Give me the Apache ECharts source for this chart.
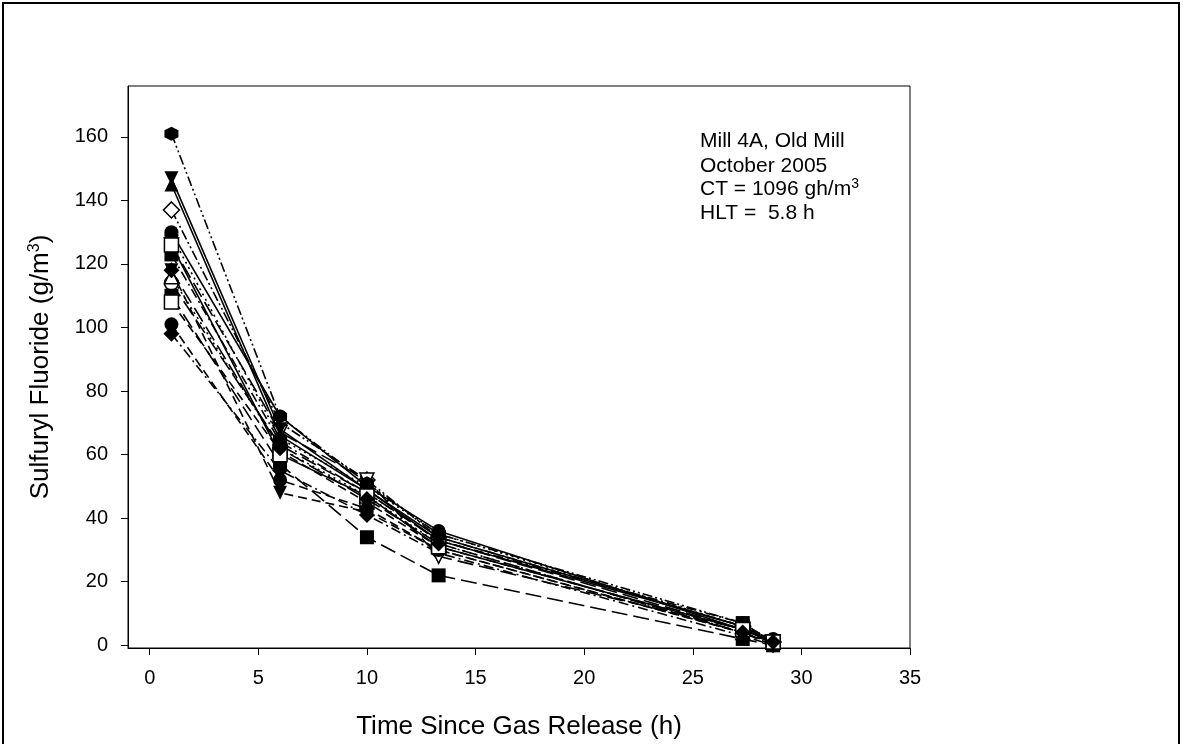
<!DOCTYPE html>
<html>
<head>
<meta charset="utf-8">
<script src="https://cdn.jsdelivr.net/npm/echarts@6/dist/echarts.min.js"></script>
<style>
html,body{margin:0;padding:0;background:#fff;}
#chart{width:1183px;height:744px;}
</style>
</head>
<body>
<div id="chart"></div>
<script>
// ---- data ----
const times = [1, 6, 10, 13.3, 27.3, 28.7];
const xTicks = [0, 5, 10, 15, 20, 25, 30, 35];
const yTicks = [0, 20, 40, 60, 80, 100, 120, 140, 160];

const loc01 = [130, 72, 50, 36, 5, 1];
const loc02 = [114, 63, 48, 33, 5, 1];
const loc03 = [118, 48, 42, 30, 4, 0.5];
const loc04 = [116, 62, 47, 32, 4, 1];
const loc05 = [110, 57, 34, 22, 2, 0];
const loc06 = [108, 61, 45, 31, 5, 1];
const loc07 = [98, 55, 41, 29, 3, 0];
const loc08 = [137, 70, 52, 34, 6, 1];
const loc09 = [145, 66, 49, 33, 6, 1];
const loc10 = [126, 67, 52, 28, 5, 1];
const loc11 = [161, 72, 51, 35, 7, 1];
const loc12 = [101, 52, 43, 30, 4, 0];
const loc13 = [147, 68, 49, 34, 6, 1];
const loc14 = [123, 64, 48, 33, 7, 1];
const loc15 = [129, 65, 50, 35, 6, 2];
const loc16 = [126, 60, 47, 31, 5, 1];
const loc17 = [118, 62, 46, 32, 4, 1];

// ---- styles ----
const HEX = 'path://M0,-1L0.866,-0.5L0.866,0.5L0,1L-0.866,0.5L-0.866,-0.5Z';
const DASH = {
  solid: 'solid',
  longdash: [16, 6],
  dash: [9, 5],
  dot: [2, 4],
  dashdot: [10, 4, 2, 4],
  dashdotdot: [10, 3, 2, 3, 2, 3]
};
const specs = [
  {d: loc01, sym: 'circle', open: false, line: 'solid'},
  {d: loc02, sym: 'circle', open: true, line: 'longdash'},
  {d: loc03, sym: 'triangle', rot: 180, open: false, line: 'dash'},
  {d: loc04, sym: 'triangle', open: true, line: 'dot'},
  {d: loc05, sym: 'rect', open: false, line: 'longdash'},
  {d: loc06, sym: 'rect', open: true, line: 'dash'},
  {d: loc07, sym: 'diamond', open: false, line: 'dashdot'},
  {d: loc08, sym: 'diamond', open: true, line: 'dashdotdot'},
  {d: loc09, sym: 'triangle', open: false, line: 'solid'},
  {d: loc10, sym: 'triangle', rot: 180, open: true, line: 'longdash'},
  {d: loc11, sym: HEX, open: false, line: 'dashdotdot'},
  {d: loc12, sym: 'circle', open: false, line: 'dash'},
  {d: loc13, sym: 'triangle', rot: 180, open: false, line: 'solid'},
  {d: loc14, sym: 'rect', open: false, line: 'dashdot'},
  {d: loc15, sym: 'circle', open: false, line: 'dot'},
  {d: loc16, sym: 'rect', open: true, line: 'solid'},
  {d: loc17, sym: 'diamond', open: false, line: 'longdash'}
];

const series = specs.map((s, i) => ({
  type: 'line',
  data: times.map((t, k) => [t, s.d[k]]),
  symbol: s.sym,
  symbolRotate: s.rot || 0,
  symbolSize: s.sym === 'diamond' ? 16 : 14,
  showSymbol: true,
  animation: false,
  z: 2 + i,
  lineStyle: {color: '#000', width: 1.6, type: DASH[s.line]},
  itemStyle: {
    color: s.open ? '#fff' : '#000',
    borderColor: '#000',
    borderWidth: s.open ? 1.5 : 0
  },
  emphasis: {disabled: true}
}));

const chart = echarts.init(document.getElementById('chart'), null, {renderer: 'canvas'});
const FONT = 'Liberation Sans, Arial, Helvetica, sans-serif';
chart.setOption({
  backgroundColor: '#fff',
  animation: false,
  grid: {left: 128, top: 86, width: 782, height: 562, show: true, borderColor: '#000', borderWidth: 1,
    backgroundColor: 'transparent', containLabel: false, outerBoundsMode: 'none'},
  xAxis: {
    type: 'value', min: -1, max: 35,
    name: 'Time Since Gas Release (h)',
    nameLocation: 'middle', nameGap: 66,
    nameTextStyle: {fontFamily: FONT, fontSize: 26, color: '#000'},
    axisLine: {show: true, onZero: false, lineStyle: {color: '#000', width: 1}},
    axisTick: {show: true, length: 7, customValues: xTicks, lineStyle: {color: '#000', width: 1}},
    axisLabel: {customValues: xTicks, margin: 20, fontFamily: FONT, fontSize: 20, color: '#000'},
    splitLine: {show: false}
  },
  yAxis: {
    type: 'value', min: -0.85, max: 176,
    name: 'Sulfuryl Fluoride (g/m{sup|3})',
    nameLocation: 'middle', nameGap: 73, nameRotate: 90,
    nameTextStyle: {fontFamily: FONT, fontSize: 26, color: '#000',
      rich: {sup: {fontFamily: FONT, fontSize: 16, color: '#000', verticalAlign: 'top', padding: [0, 0, 12, 0]}}},
    axisLine: {show: true, onZero: false, lineStyle: {color: '#000', width: 1}},
    axisTick: {show: true, length: 7, customValues: yTicks, lineStyle: {color: '#000', width: 1}},
    axisLabel: {customValues: yTicks, margin: 20, fontFamily: FONT, fontSize: 20, color: '#000'},
    splitLine: {show: false}
  },
  graphic: [
    {type: 'rect', shape: {x: 3, y: 3, width: 1176, height: 760}, style: {fill: 'none', stroke: '#000', lineWidth: 2}, silent: true, z: 100},
    {type: 'text', left: 700, top: 131, style: {text: 'Mill 4A, Old Mill', font: '21px ' + FONT, fill: '#000'}},
    {type: 'text', left: 700, top: 156, style: {text: 'October 2005', font: '21px ' + FONT, fill: '#000'}},
    {type: 'text', left: 700, top: 177, style: {text: 'CT = 1096 gh/m{sup|3}', font: '21px ' + FONT, fill: '#000',
      rich: {sup: {fontSize: 14, fontFamily: FONT, fill: '#000', verticalAlign: 'top', padding: [0, 0, 10, 0]}}}},
    {type: 'text', left: 700, top: 203, style: {text: 'HLT =  5.8 h', font: '21px ' + FONT, fill: '#000'}}
  ],
  series: series
});
</script>
</body>
</html>
